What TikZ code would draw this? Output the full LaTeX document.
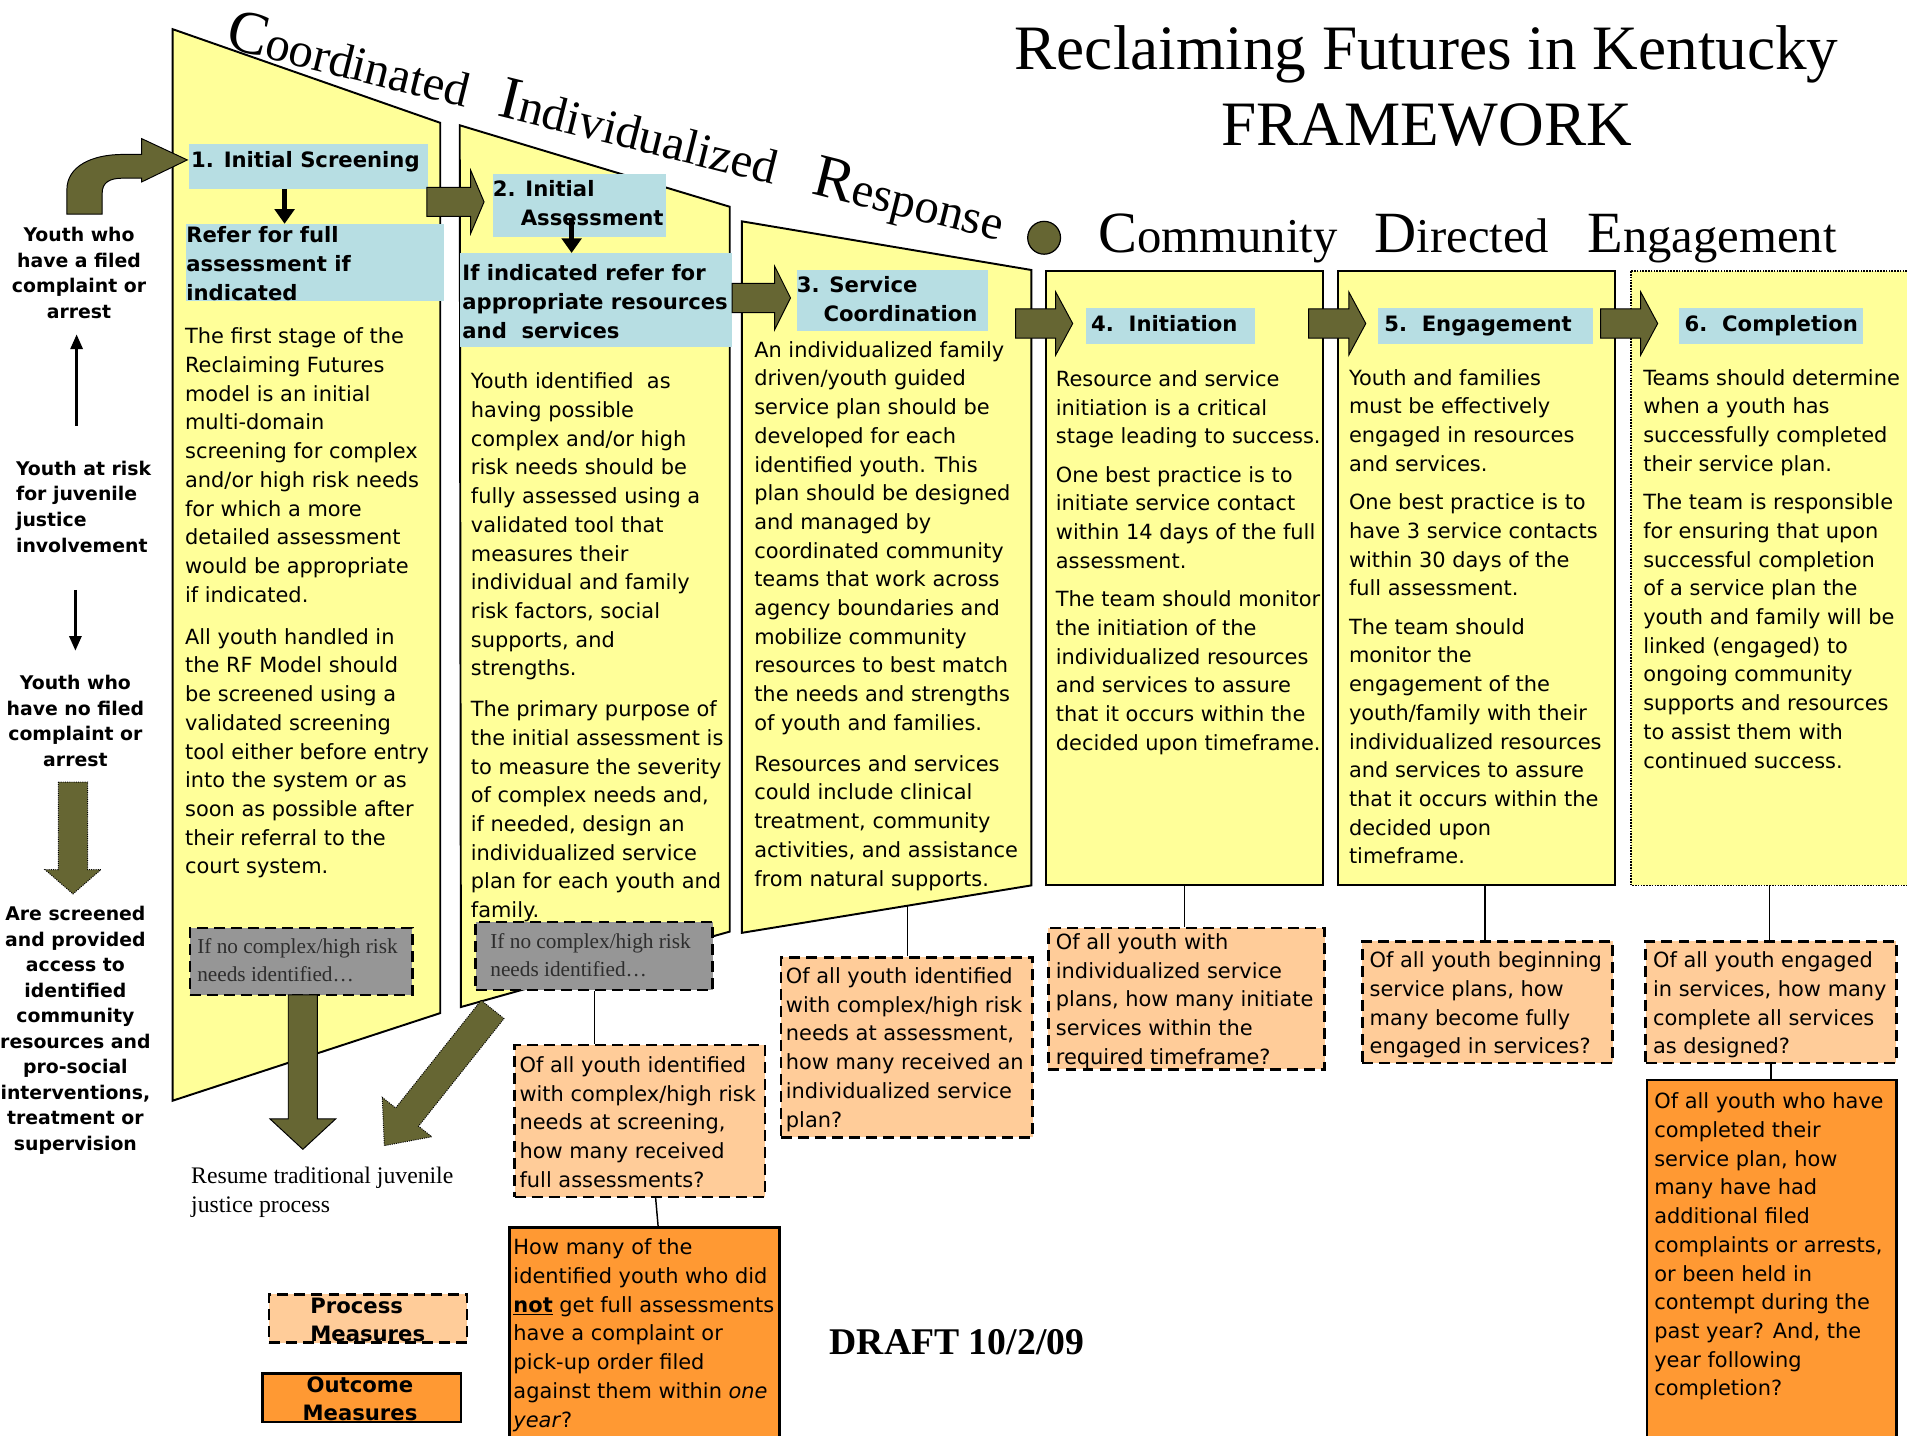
\documentclass[tikz,border=0pt]{standalone}
\usepackage{fontspec}
\usepackage{graphicx}
\usetikzlibrary{arrows.meta,calc}
\newfontfamily\vsans{DejaVu Sans}
\newfontfamily\tms{Liberation Serif}
\definecolor{yellowP}{RGB}{255,255,153}
\definecolor{hblue}{RGB}{183,222,227}
\definecolor{oliveA}{RGB}{102,102,51}
\definecolor{peach}{RGB}{255,204,153}
\definecolor{orangeO}{RGB}{255,153,51}
\definecolor{grayB}{RGB}{150,150,150}
\definecolor{grayT}{RGB}{45,45,45}
\newcommand\bodyf{\vsans\fontsize{17.2}{23.6}\selectfont}
\newcommand\hdrf{\vsans\bfseries\fontsize{17.4}{23.6}\selectfont}
\newcommand\leftf{\vsans\bfseries\fontsize{15.5}{21}\selectfont}
\newcommand\grayf{\tms\fontsize{17.5}{23.5}\selectfont}
\newcommand\blockR[4]{\filldraw[olivearr] (#1,#4-12) -- (#2,#4-12) -- (#2,#4-26) -- (#3,#4) -- (#2,#4+26) -- (#2,#4+12) -- (#1,#4+12) -- cycle;}
\tikzset{
 panel/.style={fill=yellowP, draw=black, line width=1.6pt, line join=miter},
 hbox/.style={fill=hblue, draw=none, anchor=north west, inner sep=0pt},
 htext/.style={font=\hdrf, align=left, anchor=north west, inner sep=0pt},
 btext/.style={font=\bodyf, align=left, anchor=north west, inner sep=0pt},
 ltext/.style={font=\leftf, align=center, anchor=north, inner sep=0pt},
 olivearr/.style={fill=oliveA, draw=black, line width=0.8pt},
 pbox/.style={fill=peach, draw=black, line width=2.2pt, dash pattern=on 9pt off 5pt, anchor=north west, inner sep=0pt},
 obox/.style={fill=orangeO, draw=black, line width=2.2pt, anchor=north west, inner sep=0pt},
 gbox/.style={fill=grayB, draw=black, line width=2.2pt, dash pattern=on 9pt off 5pt, anchor=north west, inner sep=0pt},
 conn/.style={draw=black, line width=1.2pt},
 sarrow/.style={line width=4pt, -{Triangle[width=16pt,length=12pt]}},
 tarrow/.style={line width=2pt, -{Triangle[width=10pt,length=12pt]}},
 headw/.style={anchor=base west, inner sep=0pt, rotate=-14.04, font=\tms\fontsize{40}{40}\selectfont},
 commw/.style={anchor=base west, inner sep=0pt, font=\tms\fontsize{40}{40}\selectfont},
}
\begin{document}
\begin{tikzpicture}[x=1pt,y=-1pt]
\useasboundingbox (0,0) rectangle (1568,1180);
\clip (0,0) rectangle (1568,1180);
\fill[white] (0,0) rectangle (1568,1180);

% panels
\filldraw[panel] (142,24) -- (362,101) -- (362,833) -- (142,905) -- cycle;
\filldraw[panel] (378,103) -- (600,170) -- (600,766) -- (379,828) -- cycle;
\filldraw[panel] (610,182) -- (848,222) -- (848,728) -- (610,767) -- cycle;
\filldraw[panel] (860,223) rectangle (1088,728);
\filldraw[panel] (1100,223) rectangle (1328,728);
\filldraw[fill=yellowP, draw=black, line width=1.3pt, densely dotted] (1341,223) rectangle (1590,728);
\coordinate (pan3b) at (746,745);
\coordinate (pan4b) at (974,728);
\coordinate (pan5b) at (1221,728);
\coordinate (pan6b) at (1455,728);

% slanted heading
\node[headw] (wcoord) at (184,39) {{\fontsize{50}{50}\selectfont C}oordinated};
\node[headw] (windiv) at (408,95) {{\fontsize{50}{50}\selectfont I}ndividualized};
\node[headw] (wresp) at (666,159) {{\fontsize{50}{50}\selectfont R}esponse};
\filldraw[fill=oliveA, draw=black, line width=1pt] (858.5,195.5) circle (13.5);
\node[commw] (wcomm) at (903,208) {{\fontsize{48}{48}\selectfont C}ommunity};
\node[commw] (wdir) at (1130,208) {{\fontsize{48}{48}\selectfont D}irected};
\node[commw] (weng) at (1305,208) {{\fontsize{48}{48}\selectfont E}ngagement};

% title
\node[anchor=base, inner sep=0pt, font=\tms\fontsize{52}{52}\selectfont] (title1) at (1173,57) {Reclaiming Futures in Kentucky};
\node[anchor=base, inner sep=0pt, font=\tms\fontsize{52}{52}\selectfont] (title2) at (1173,120) {FRAMEWORK};

% header boxes
\node[hbox, minimum width=197pt, minimum height=37pt] (hb1) at (155,118) {};
\node[hbox, minimum width=212pt, minimum height=63pt] (hbref) at (153,184) {};
\node[hbox, minimum width=142pt, minimum height=52pt] (hb2) at (405,143) {};
\node[hbox, minimum width=224pt, minimum height=77pt] (hbif) at (378,208) {};
\node[hbox, minimum width=157pt, minimum height=50pt] (hb3) at (655,222) {};
\node[hbox, minimum width=139pt, minimum height=30pt] (hb4) at (893,253) {};
\node[hbox, minimum width=177pt, minimum height=30pt] (hb5) at (1133,253) {};
\node[hbox, minimum width=152pt, minimum height=30pt] (hb6) at (1380,253) {};

\node[htext] (ht1) at (157,121) {\strut 1. Initial Screening};
\node[htext] (htref) at (153,183) {\strut Refer for full\\assessment if\\indicated};
\node[htext] (ht2) at (405,145) {\strut 2. Initial\\\hspace*{23pt}Assessment};
\node[htext] (htif) at (380,214) {\strut If indicated refer for\\appropriate resources\\and~ services};
\node[htext] (ht3) at (655,224) {\strut 3. Service\\\hspace*{22pt}Coordination};
\node[htext] (ht4) at (897,256) {\strut 4.\ \ Initiation};
\node[htext] (ht5) at (1138,256) {\strut 5.\ \ Engagement};
\node[htext] (ht6) at (1385,256) {\strut 6.\ \ Completion};

% block arrows
\blockR{351}{387}{398}{166}
\blockR{602}{637}{650}{245}
\blockR{835}{868}{882}{266}
\blockR{1076}{1109}{1123}{266}
\blockR{1316}{1349}{1363}{266}

% curved entry arrow
\filldraw[olivearr] (55,176) -- (55,156) .. controls (55,137) and (75,127) .. (101,127) -- (116.5,127) -- (116.5,114) -- (154,131.5) -- (116.5,149.6) -- (116.5,146.5) -- (101,146.5) .. controls (90,146.5) and (84,150) .. (84,159) -- (84,176) -- cycle;

% small black arrows
\draw[sarrow] (234,0 |- hb1.south) -- (234,0 |- hbref.north);
\coordinate (a2s) at (470,181);
\draw[sarrow] (a2s) -- (470,0 |- hbif.north);

% body texts
\node[btext] (tx1) at (152,266) {\strut The first stage of the\\Reclaiming Futures\\model is an initial\\multi-domain\\screening for complex\\and/or high risk needs\\for which a more\\detailed assessment\\would be appropriate\\if indicated.\\[11pt]All youth handled in\\the RF Model should\\be screened using a\\validated screening\\tool either before entry\\into the system or as\\soon as possible after\\their referral to the\\court system.};
\node[btext] (tx2) at (387,303) {\strut Youth identified~ as\\having possible\\complex and/or high\\risk needs should be\\fully assessed using a\\validated tool that\\measures their\\individual and family\\risk factors, social\\supports, and\\strengths.\\[10pt]The primary purpose of\\the initial assessment is\\to measure the severity\\of complex needs and,\\if needed, design an\\individualized service\\plan for each youth and\\family.};
\node[btext] (tx3) at (620,277) {\strut An individualized family\\driven/youth guided\\service plan should be\\developed for each\\identified youth. This\\plan should be designed\\and managed by\\coordinated community\\teams that work across\\agency boundaries and\\mobilize community\\resources to best match\\the needs and strengths\\of youth and families.\\[10pt]Resources and services\\could include clinical\\treatment, community\\activities, and assistance\\from natural supports.};
\node[btext] (tx4) at (868,301) {\strut Resource and service\\initiation is a critical\\stage leading to success.\\[8pt]One best practice is to\\initiate service contact\\within 14 days of the full\\assessment.\\[8pt]The team should monitor\\the initiation of the\\individualized resources\\and services to assure\\that it occurs within the\\decided upon timeframe.};
\node[btext] (tx5) at (1109,300) {\strut Youth and families\\must be effectively\\engaged in resources\\and services.\\[8pt]One best practice is to\\have 3 service contacts\\within 30 days of the\\full assessment.\\[8pt]The team should\\monitor the\\engagement of the\\youth/family with their\\individualized resources\\and services to assure\\that it occurs within the\\decided upon\\timeframe.};
\node[btext] (tx6) at (1351,300) {\strut Teams should determine\\when a youth has\\successfully completed\\their service plan.\\[8pt]The team is responsible\\for ensuring that upon\\successful completion\\of a service plan the\\youth and family will be\\linked (engaged) to\\ongoing community\\supports and resources\\to assist them with\\continued success.};

% left column
\node[ltext] (l1) at (65,184) {\strut Youth who\\have a filed\\complaint or\\arrest};
\node[ltext, align=left, anchor=north west] (l2) at (13,376) {\strut Youth at risk\\for juvenile\\justice\\involvement};
\node[ltext] (l3) at (62,552) {\strut Youth who\\have no filed\\complaint or\\arrest};
\node[ltext] (l4) at (62,742) {\strut Are screened\\and provided\\access to\\identified\\community\\resources and\\pro-social\\interventions,\\treatment or\\supervision};
\coordinate (up0) at (63,350);
\coordinate (up1) at (63,275);
\coordinate (dn0) at (62,485);
\coordinate (dn1) at (62,535);
\draw[tarrow] (up0) -- (up1);
\draw[tarrow] (dn0) -- (dn1);
\filldraw[fill=oliveA, draw=black, line width=0.8pt, densely dotted] (48,643) -- (72,643) -- (72,715) -- (83,715) -- (60,735) -- (37,715) -- (48,715) -- cycle;

% gray boxes and exit arrows
\node[gbox, minimum width=183pt, minimum height=55pt] (g1) at (155,762) {};
\node[gbox, minimum width=195pt, minimum height=56pt] (g2) at (390,757) {};
\node[font=\grayf, text=grayT, align=left, anchor=north west, inner sep=0pt] (gt1) at (162,767) {\strut If no complex/high risk\\needs identified\ldots};
\node[font=\grayf, text=grayT, align=left, anchor=north west, inner sep=0pt] (gt2) at (403,763) {\strut If no complex/high risk\\needs identified\ldots};
\filldraw[olivearr] (237,818) -- (261,818) -- (261,920) -- (276,920) -- (249,945) -- (222,920) -- (237,920) -- cycle;
\filldraw[fill=oliveA, draw=black, line width=0.8pt, densely dotted] (395.6,822.5) -- (414.4,837.5) -- (344.1,926) -- (355,934.7) -- (316,942) -- (314.3,902.3) -- (325.3,911) -- cycle;
\node[font=\tms\fontsize{19.5}{24}\selectfont, align=left, anchor=north west, inner sep=0pt] (resume) at (157,956) {\strut Resume traditional juvenile\\justice process};

% measure boxes
\node[pbox, minimum width=206pt, minimum height=125pt] (p1) at (422,858) {};
\node[pbox, minimum width=207pt, minimum height=148pt] (p2) at (641,786) {};
\node[pbox, minimum width=227pt, minimum height=116pt] (p3) at (861,762) {};
\node[pbox, minimum width=206pt, minimum height=100pt] (p4) at (1119,773) {};
\node[pbox, minimum width=206pt, minimum height=100pt] (p5) at (1352,773) {};
\node[obox, minimum width=222pt, minimum height=200pt] (o1) at (418,1008) {};
\node[obox, minimum width=205pt, minimum height=320pt] (o2) at (1353,887) {};

% connectors
\draw[conn] (g2.south) -- (g2.south |- p1.north);
\draw[conn] (pan3b) -- (pan3b |- p2.north);
\draw[conn] (pan4b) -- (pan4b |- p3.north);
\draw[conn] (pan5b) -- (pan5b |- p4.north);
\draw[conn] (pan6b) -- (pan6b |- p5.north);
\draw[conn] (p5.south) -- (p5.south |- o2.north);
\draw[conn] ([xshift=13pt]p1.south) -- ([xshift=11pt]o1.north);

\node[btext] (pt1) at (427,865) {\strut Of all youth identified\\with complex/high risk\\needs at screening,\\how many received\\full assessments?};
\node[btext] (pt2) at (646,792) {\strut Of all youth identified\\with complex/high risk\\needs at assessment,\\how many received an\\individualized service\\plan?};
\node[btext] (pt3) at (868,764) {\strut Of all youth with\\individualized service\\plans, how many initiate\\services within the\\required timeframe?};
\node[btext] (pt4) at (1126,779) {\strut Of all youth beginning\\service plans, how\\many become fully\\engaged in services?};
\node[btext] (pt5) at (1359,779) {\strut Of all youth engaged\\in services, how many\\complete all services\\as designed?};
\node[btext] (ot1) at (422,1015) {\strut How many of the\\identified youth who did\\\underline{\textbf{not}} get full assessments\\have a complaint or\\pick-up order filed\\against them within \textit{one}\\\textit{year}?};
\node[btext] (ot2) at (1360,895) {\strut Of all youth who have\\completed their\\service plan, how\\many have had\\additional filed\\complaints or arrests,\\or been held in\\contempt during the\\past year? And, the\\year following\\completion?};

% legend
\node[pbox, minimum width=163pt, minimum height=40pt] (lp) at (220,1063) {};
\node[obox, minimum width=163pt, minimum height=40pt] (lo) at (215,1128) {};
\node[htext] (lpt) at (255,1063) {\strut Process\\Measures};
\node[htext, align=center, anchor=north] (lot) at (296,1128) {\strut Outcome\\Measures};

\node[anchor=base west, inner sep=0pt, font=\tms\bfseries\fontsize{31}{31}\selectfont] (draft) at (682,1114) {DRAFT 10/2/09};
\end{tikzpicture}
\end{document}
